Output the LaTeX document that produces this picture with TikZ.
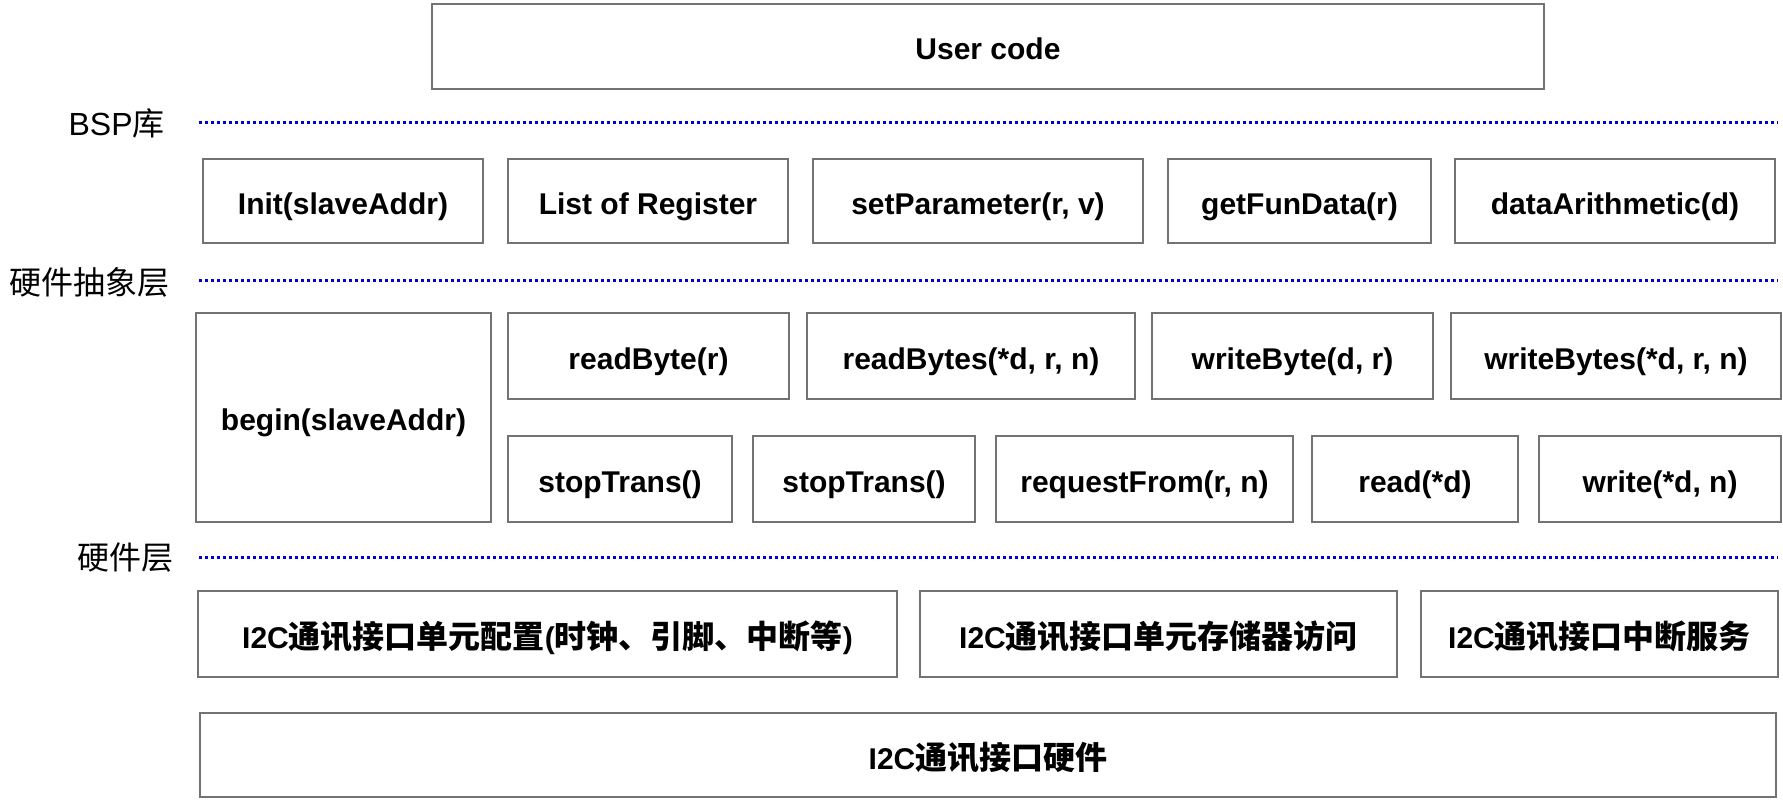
\documentclass[tikz,border=0pt]{standalone}
\usepackage{fontspec}
\setmainfont{Liberation Sans}
\newfontfamily\cjk{Noto Sans CJK SC}
\newcommand\zh[1]{{\cjk\fontsize{16pt}{18pt}\selectfont #1}}
\definecolor{boxgray}{RGB}{115,115,115}
\definecolor{sepblue}{RGB}{0,0,210}
\tikzset{
  box/.style={draw=boxgray, line width=1.35pt, inner sep=0pt, outer sep=0pt,
    text height=13pt, text depth=0pt,
    font=\fontsize{15pt}{18pt}\selectfont\bfseries, text=black},
  zhbox/.style={box, text height=14.5pt},
  lab/.style={inner sep=0pt, font=\fontsize{16pt}{18pt}\selectfont, text=black},
  sep/.style={draw=sepblue, line width=1.5pt, dash pattern=on 1.5pt off 1.5pt}
}
\newcommand\bx[7][]{\node[box, #1, minimum width={(#5-#3)*0.5pt}, minimum height={(#6-#4)*0.5pt}] (#2) at ({(#3+#5)/2},{(#4+#6)/2}) {#7};}
\begin{document}
\begin{tikzpicture}[x=0.5pt, y=-0.5pt]
\useasboundingbox (0,0) rectangle (1783,800);
% top
\bx{user}{432}{4}{1544}{89}{User code}
% separators
\coordinate (s1a) at (199,122); \coordinate (s1b) at (1778,122);
\coordinate (s2a) at (199,280); \coordinate (s2b) at (1778,280);
\coordinate (s3a) at (199,557); \coordinate (s3b) at (1778,557);
\draw[sep] (s1a) -- (s1b);
\draw[sep] (s2a) -- (s2b);
\draw[sep] (s3a) -- (s3b);
\node[lab, anchor=east] (lbsp) at (165,123) {BSP\zh{库}};
\node[lab, anchor=east] (lhal) at (170,282) {\zh{硬件抽象层}};
\node[lab, anchor=east] (lhw) at (174,558) {\zh{硬件层}};
% BSP row
\bx{init}{203}{159}{483}{243}{Init(slaveAddr)}
\bx{list}{508}{159}{788}{243}{List of Register}
\bx{setp}{813}{159}{1143}{243}{setParameter(r, v)}
\bx{getf}{1168}{159}{1431}{243}{getFunData(r)}
\bx{arith}{1455}{159}{1775}{243}{dataArithmetic(d)}
% HAL
\bx{begin}{196}{313}{491}{522}{begin(slaveAddr)}
\bx{rb}{508}{313}{789}{399}{readByte(r)}
\bx{rbs}{807}{313}{1135}{399}{readBytes(*d, r, n)}
\bx{wb}{1152}{313}{1433}{399}{writeByte(d, r)}
\bx{wbs}{1451}{313}{1781}{399}{writeBytes(*d, r, n)}
\bx{st1}{508}{436}{732}{522}{stopTrans()}
\bx{st2}{753}{436}{975}{522}{stopTrans()}
\bx{req}{996}{436}{1293}{522}{requestFrom(r, n)}
\bx{rd}{1312}{436}{1518}{522}{read(*d)}
\bx{wr}{1539}{436}{1781}{522}{write(*d, n)}
% hardware
\bx[zhbox]{hw1}{198}{591}{897}{677}{I2C\zh{\bfseries 通讯接口单元配置}(\zh{\bfseries 时钟、引脚、中断等})}
\bx[zhbox]{hw2}{920}{591}{1397}{677}{I2C\zh{\bfseries 通讯接口单元存储器访问}}
\bx[zhbox]{hw3}{1421}{591}{1778}{677}{I2C\zh{\bfseries 通讯接口中断服务}}
\bx[zhbox]{hw}{200}{713}{1776}{797}{I2C\zh{\bfseries 通讯接口硬件}}
\end{tikzpicture}
\end{document}
